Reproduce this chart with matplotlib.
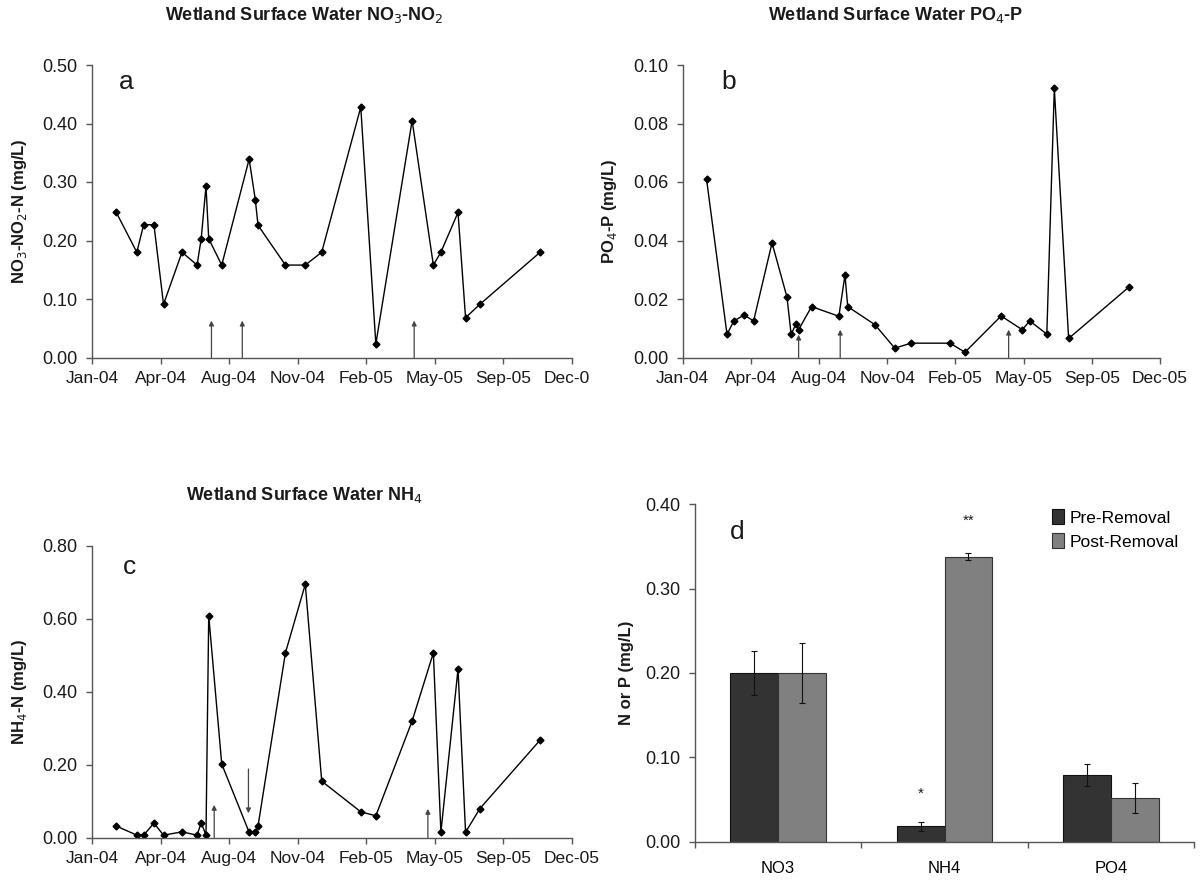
import matplotlib
matplotlib.use("Agg")
import matplotlib.pyplot as plt
import matplotlib.dates as mdates
from matplotlib.transforms import Bbox, TransformedBbox
import numpy as np
import datetime as dt

plt.rcParams['font.family'] = ['Liberation Sans', 'DejaVu Sans']

# sampling dates (shared by panels a, b, c)
dates = ['2004-02-19', '2004-03-20', '2004-03-30', '2004-04-14', '2004-04-28',
         '2004-05-25', '2004-06-16', '2004-06-22', '2004-06-29', '2004-07-03',
         '2004-07-22', '2004-08-31', '2004-09-09', '2004-09-13', '2004-10-23',
         '2004-11-21', '2004-12-15', '2005-02-10', '2005-03-04', '2005-04-26',
         '2005-05-27', '2005-06-07', '2005-07-02', '2005-07-13', '2005-08-03',
         '2005-10-30']

no3 = [0.248, 0.180, 0.227, 0.227, 0.091, 0.180, 0.158, 0.203, 0.293, 0.203,
       0.158, 0.339, 0.270, 0.226, 0.158, 0.158, 0.180, 0.428, 0.023, 0.405,
       0.158, 0.180, 0.248, 0.068, 0.091, 0.180]

po4 = [0.0609, 0.0079, 0.0125, 0.0145, 0.0125, 0.0392, 0.0206, 0.0079, 0.0114, 0.0095,
       0.0174, 0.0141, 0.0282, 0.0174, 0.0112, 0.0032, 0.0049, 0.0049, 0.0018, 0.0142,
       0.0095, 0.0125, 0.0080, 0.0920, 0.0065, 0.0240]

nh4 = [0.032, 0.007, 0.007, 0.040, 0.007, 0.016, 0.007, 0.041, 0.007, 0.609,
       0.202, 0.015, 0.015, 0.032, 0.507, 0.695, 0.155, 0.071, 0.060, 0.320,
       0.507, 0.015, 0.462, 0.015, 0.080, 0.268]

# arrows marking events: (date, start, end)
arrows_a = [('2004-07-07', 0.0, 0.063), ('2004-08-21', 0.0, 0.063), ('2005-04-29', 0.0, 0.063)]
arrows_b = [('2004-07-03', 0.0, 0.0078), ('2004-09-02', 0.0, 0.0095), ('2005-05-07', 0.0, 0.0095)]
arrows_c = [('2004-07-11', 0.0, 0.090), ('2004-08-30', 0.188, 0.067), ('2005-05-19', 0.0, 0.079)]

# panel d summary
nutrients = ['NO3', 'NH4', 'PO4']
pre_mean = [0.200, 0.0178, 0.0784]
pre_err = [0.026, 0.005, 0.013]
post_mean = [0.200, 0.338, 0.0515]
post_err = [0.036, 0.0045, 0.0175]

t0 = dt.datetime(2004, 1, 15)
tick_dates = [t0 + dt.timedelta(days=100 * k) for k in range(8)]
x_dates = [dt.datetime.strptime(d, '%Y-%m-%d') for d in dates]

W, H = 1202, 882
fig = plt.figure(figsize=(W / 100, H / 100), dpi=100)

spine_col = '#555555'
text_col = '#1a1a1a'


def fx(px):
    return px / W


def fy(px):
    return 1 - px / H


def rect(left, top, right, bottom):
    return [fx(left), fy(bottom), fx(right) - fx(left), fy(top) - fy(bottom)]


def style_axes(ax):
    for s in ['top', 'right']:
        ax.spines[s].set_visible(False)
    for s in ['left', 'bottom']:
        ax.spines[s].set_color(spine_col)
        ax.spines[s].set_linewidth(1.0)
    ax.tick_params(axis='both', direction='out', length=4.5, width=1.0,
                   color=spine_col, labelsize=13, labelcolor=text_col, pad=6)
    ax.tick_params(axis='x', labelsize=12.5, pad=5)


def time_panel(r, values, ymax, ystep, ylabel, letter, letter_xy, arrows):
    ax = fig.add_axes(r)
    ax.plot(x_dates, values, color='black', lw=1.0, marker='D', ms=3.5,
            markerfacecolor='black', markeredgecolor='black')
    ax.set_xlim(tick_dates[0], tick_dates[-1])
    ax.set_xticks(tick_dates)
    ax.xaxis.set_major_formatter(mdates.DateFormatter('%b-%y'))
    ax.set_ylim(0, ymax)
    ax.set_yticks(np.arange(0, ymax + ystep / 2, ystep))
    ax.yaxis.set_major_formatter(plt.FormatStrFormatter('%.2f'))
    style_axes(ax)
    ax.set_ylabel(ylabel, fontsize=12, fontweight='bold', color=text_col)
    ax.yaxis.set_label_coords(-0.133, 0.5)
    ax.text(letter_xy[0], letter_xy[1], letter, transform=ax.transAxes,
            fontsize=19, ha='center', va='center', color=text_col)
    for d, y0, y1 in arrows:
        xd = dt.datetime.strptime(d, '%Y-%m-%d')
        ax.annotate('', xy=(xd, y1), xytext=(xd, y0),
                    arrowprops=dict(arrowstyle='-|>', color='#444444', lw=0.9,
                                    mutation_scale=7, shrinkA=0, shrinkB=0),
                    annotation_clip=False)
    return ax


ax_a = time_panel(rect(92.3, 65, 571.7, 357.5), no3, 0.5, 0.1,
                  'NO$_3$-NO$_2$-N (mg/L)', 'a', (0.070, 0.942), arrows_a)
ax_b = time_panel(rect(682.7, 65, 1160, 357.5), po4, 0.1, 0.02,
                  'PO$_4$-P (mg/L)', 'b', (0.096, 0.942), arrows_b)
ax_c = time_panel(rect(92.3, 546, 571.7, 837.7), nh4, 0.8, 0.2,
                  'NH$_4$-N (mg/L)', 'c', (0.077, 0.927), arrows_c)

# panel a's last tick label is cut off in the original
fig.canvas.draw()
last = ax_a.get_xticklabels()[-1]
last.set_clip_box(TransformedBbox(Bbox([[0, 0], [fx(590), 1]]), fig.transFigure))
last.set_clip_on(True)

# panel d: bars
ax_d = fig.add_axes(rect(695, 504.3, 1194, 841.5))
x = np.arange(len(nutrients))
w = 0.287
ekw = dict(elinewidth=0.8, capsize=2, capthick=0.8, ecolor='#111111')
ax_d.bar(x - w / 2, pre_mean, width=w, yerr=pre_err, color='#333333',
         edgecolor='#111111', linewidth=0.8, error_kw=ekw, label='Pre-Removal')
ax_d.bar(x + w / 2, post_mean, width=w, yerr=post_err, color='#808080',
         edgecolor='#333333', linewidth=0.8, error_kw=ekw, label='Post-Removal')
ax_d.set_xlim(-0.5, 2.5)
ax_d.set_ylim(0, 0.4)
ax_d.set_yticks(np.arange(0, 0.41, 0.1))
ax_d.yaxis.set_major_formatter(plt.FormatStrFormatter('%.2f'))
ax_d.set_xticks([-0.5, 0.5, 1.5, 2.5])
ax_d.set_xticklabels([])
ax_d.set_xticks(x, minor=True)
ax_d.set_xticklabels(nutrients, minor=True)
style_axes(ax_d)
ax_d.tick_params(axis='x', which='minor', length=0, labelsize=12, pad=14)
ax_d.set_ylabel('N or P (mg/L)', fontsize=12, fontweight='bold', color=text_col)
ax_d.yaxis.set_label_coords(-0.123, 0.5)
ax_d.text(0.084, 0.919, 'd', transform=ax_d.transAxes, fontsize=19,
          ha='center', va='center', color=text_col)
ax_d.text(x[1] - w / 2, 0.057, '*', ha='center', va='center', fontsize=11,
          color=text_col)
ax_d.text(x[1] + w / 2, 0.381, '**', ha='center', va='center', fontsize=11,
          color=text_col)
ax_d.legend(loc='upper left', bbox_to_anchor=(0.716, 0.985), frameon=False,
            fontsize=12.5, handlelength=0.7, handleheight=0.9, handletextpad=0.3,
            labelspacing=0.45, borderaxespad=0, borderpad=0)

# titles
title_font = dict(fontsize=13, fontweight='bold', color=text_col, ha='center',
                  va='center')
fig.text(fx(304), fy(15), 'Wetland Surface Water NO$_3$-NO$_2$', **title_font)
fig.text(fx(896), fy(15), 'Wetland Surface Water PO$_4$-P', **title_font)
fig.text(fx(304), fy(495), 'Wetland Surface Water NH$_4$', **title_font)

fig.savefig('out.png', dpi=100)
